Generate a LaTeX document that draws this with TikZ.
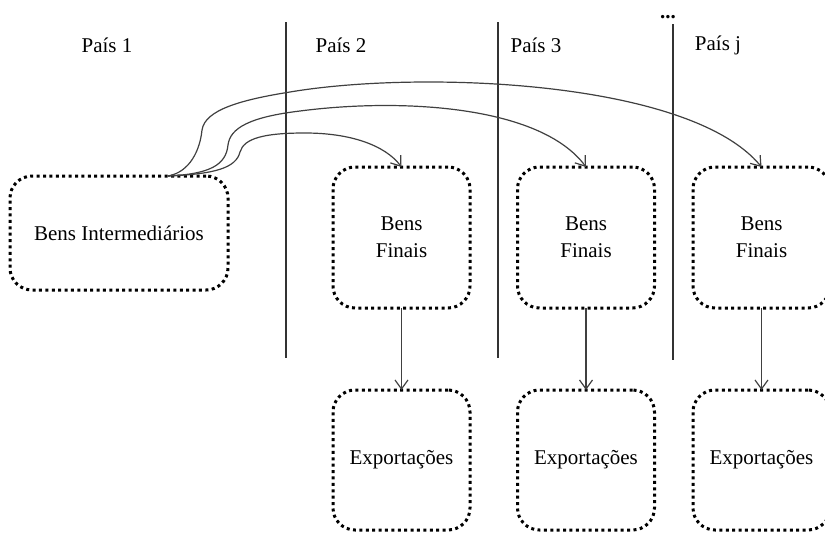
\documentclass[tikz,border=0pt]{standalone}
\usepackage{fontspec}
\setmainfont{Liberation Serif}
\usetikzlibrary{arrows.meta}
\usetikzlibrary{positioning}
\tikzset {
  box node/.style = {
    draw = black,
    line width = 3pt,
    dash pattern = on 3pt off 3.4pt,
    rounded corners = 22pt,
    outer sep = 0,
    inner sep = 0,
    font = \fontsize{21}{27}\selectfont
  },
  % intermediate goods, country 1
  inter/.style = {
    box node,
    minimum width = 218pt,
    minimum height = 114pt
  },
  % final goods and exports, other countries
  final/.style = {
    box node,
    align = center,
    minimum width = 137pt,
    minimum height = 141pt
  },
  export/.style = {
    final,
    minimum height = 140pt
  },
  country/.style = {
    font = \fontsize{21}{27}\selectfont
  }
}
\tikzset {
  divider/.style = {
    draw = black!80,
    line width = 1.3pt
  },
  % path style with an open arrow head
  link/.style = {
    draw = black!75,
    line width = 1.2pt,
    -{Straight Barb[length=9pt,width=13pt]}
  }
}

\begin{document}
\begin{tikzpicture}[x=1pt, y=-1pt]
    \useasboundingbox (0,0) rectangle (825,533);

    \node[country] (c1) at (107,45) {País 1};
    \node[country] (c2) at (341,45) {País 2};
    \node[country] (c3) at (536,45) {País 3};
    \node[country] (cj) at (718,45) {País j};
    \node[country, anchor=base, inner sep=0] (dots) at (668,18) {\textbf{...}};

    \coordinate (div1-top) at (286,22);
    \coordinate (div1-bot) at (286,358);
    \coordinate (div2-top) at (498,22);
    \coordinate (div2-bot) at (498,358);
    \coordinate (div3-top) at (673,24);
    \coordinate (div3-bot) at (673,360);

    \draw [divider] (div1-top) -- (div1-bot);
    \draw [divider] (div2-top) -- (div2-bot);
    \draw [divider] (div3-top) -- (div3-bot);

    \node[inter] (int) at (119,233) {Bens Intermediários};

    \node[final] (fin1) at (401.5,237.5) {Bens\\Finais};
    \node[final] (fin2) at (586,237.5) {Bens\\Finais};
    \node[final] (fin3) at (761.5,237.5) {Bens\\Finais};

    \node[export] (exp1) [below=82pt of fin1] {Exportações};
    \node[export] (exp2) [below=82pt of fin2] {Exportações};
    \node[export] (exp3) [below=82pt of fin3] {Exportações};

    \coordinate (src) at ([xshift=49pt]int.north);

    \draw [link] (fin1) -- (exp1);
    \draw [link] (fin2) -- (exp2);
    \draw [link] (fin3) -- (exp3);

    \draw [link]
      (src)
      .. controls (215,174) and (236,168) .. (240,152)
      .. controls (244,138) and (265,133) .. (305,133)
      .. controls (350,133) and (385,145) .. (fin1.north);

    \draw [link]
      (src)
      .. controls (210,174) and (226,165) .. (228,145)
      .. controls (230,128) and (250,117) .. (300,111)
      .. controls (400,98) and (540,105) .. (fin2.north);

    \draw [link]
      (src)
      .. controls (190,172) and (200,150) .. (202,130)
      .. controls (205,110) and (240,100) .. (290,92)
      .. controls (420,70) and (690,80) .. (fin3.north);
  \end{tikzpicture}
\end{document}
